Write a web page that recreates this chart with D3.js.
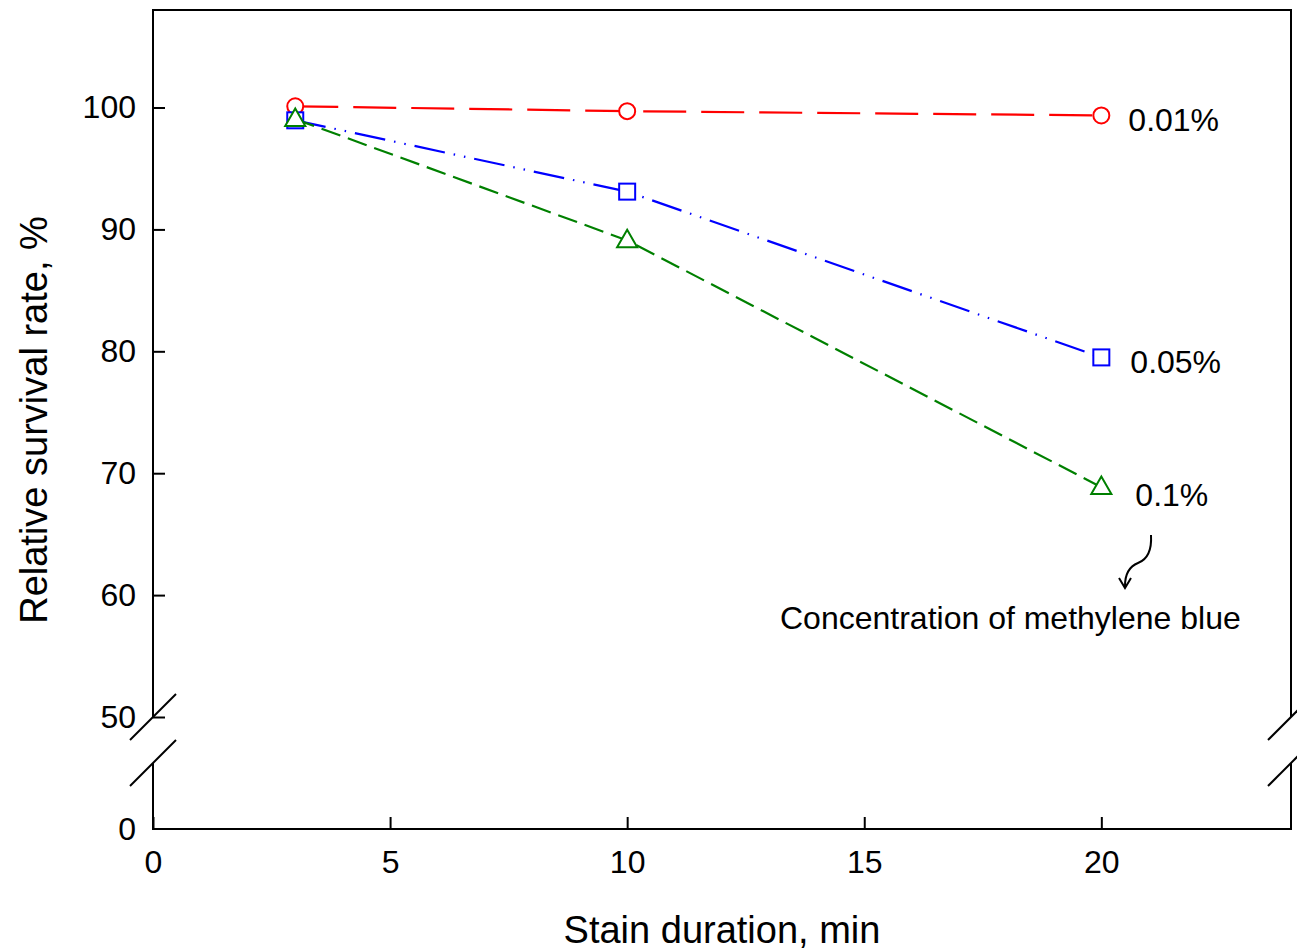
<!DOCTYPE html>
<html>
<head>
<meta charset="utf-8">
<script src="https://d3js.org/d3.v7.min.js"></script>
<style>
  body { margin: 0; background: #fff; }
  text { font-family: "Liberation Sans", Arial, sans-serif; fill: #000; }
</style>
</head>
<body>
<div id="chart"></div>
<script>
// data
var durations = [3, 10, 20];
var concentrations = ["0.01%", "0.05%", "0.1%"];
var survival001 = [100.1, 99.7, 99.35];
var survival005 = [98.95, 93.1, 79.5];
var survival01 = [99.05, 89.1, 68.85];
var xTicks = [0, 5, 10, 15, 20];
var yTicks = [50, 60, 70, 80, 90, 100];
var noteText = "Concentration of methylene blue";

var W = 1297, H = 952;
var mLeft = 153, mRight = 1291, mTop = 10, mBottom = 829;
var breakY = 717, lowTop = 763;

var svg = d3.select("#chart").append("svg")
  .attr("width", W).attr("height", H);

var x = d3.scaleLinear().domain([0, 24]).range([mLeft, mRight]);
// upper part of the broken axis
var y = d3.scaleLinear().domain([50, 108]).range([breakY, mTop]);
// lower part, just the zero
var yLow = d3.scaleLinear().domain([0, 5]).range([mBottom, lowTop]);

var series = [
  { name: concentrations[0], vals: survival001, color: "#ff0000", dash: "43,15", shape: "circle", dx: 27, dy: 4 },
  { name: concentrations[1], vals: survival005, color: "#0000ff", dash: "31,9,1.5,9,1.5,9", shape: "square", dx: 29, dy: 4 },
  { name: concentrations[2], vals: survival01, color: "#008000", dash: "20,8", shape: "triangle", dx: 34, dy: 8 }
];

// frame
var frame = svg.append("g").attr("stroke", "#000").attr("stroke-width", 2).attr("fill", "none");
frame.append("path").attr("d", "M" + mLeft + "," + breakY + "V" + mTop + "H" + mRight + "V" + breakY);
frame.append("path").attr("d", "M" + mLeft + "," + lowTop + "V" + mBottom + "H" + mRight + "V" + lowTop);
// break marks
[mLeft, mRight].forEach(function(bx) {
  [breakY, lowTop].forEach(function(by) {
    frame.append("line")
      .attr("x1", bx - 23).attr("y1", by + 23)
      .attr("x2", bx + 23).attr("y2", by - 23);
  });
});

// axes
var fs = 32;
var xAxis = svg.append("g").attr("transform", "translate(0," + mBottom + ")")
  .call(d3.axisBottom(x).tickValues(xTicks).tickSizeInner(-12).tickSizeOuter(0).tickPadding(21));
var yAxis = svg.append("g").attr("transform", "translate(" + mLeft + ",0)")
  .call(d3.axisLeft(y).tickValues(yTicks).tickSizeInner(-12).tickSizeOuter(0).tickPadding(17));
var yAxisLow = svg.append("g").attr("transform", "translate(" + mLeft + ",0)")
  .call(d3.axisLeft(yLow).tickValues([0]).tickFormat(d3.format("d")).tickSize(0).tickPadding(17));
[xAxis, yAxis, yAxisLow].forEach(function(a) {
  a.select(".domain").remove();
  a.selectAll("line").attr("stroke", "#000").attr("stroke-width", 2);
  a.selectAll("text").style("font-size", fs + "px").style("font-family", '"Liberation Sans", Arial, sans-serif');
});

// lines
var line = d3.line()
  .x(function(d, i) { return x(durations[i]); })
  .y(function(d) { return y(d); });

series.forEach(function(s) {
  svg.append("path")
    .attr("d", line(s.vals))
    .attr("fill", "none")
    .attr("stroke", s.color)
    .attr("stroke-width", 2.2)
    .attr("stroke-dasharray", s.dash);
});

// markers
series.forEach(function(s) {
  var g = svg.append("g");
  s.vals.forEach(function(v, i) {
    var cx = x(durations[i]), cy = y(v);
    var m;
    if (s.shape == "circle") {
      m = g.append("circle").attr("cx", cx).attr("cy", cy).attr("r", 8);
    } else if (s.shape == "square") {
      m = g.append("rect").attr("x", cx - 8).attr("y", cy - 8).attr("width", 16).attr("height", 16);
    } else {
      m = g.append("path").attr("d", d3.symbol().type(d3.symbolTriangle).size(175)()).attr("transform", "translate(" + cx + "," + (cy + 1) + ")");
    }
    m.attr("fill", "#fff").attr("stroke", s.color).attr("stroke-width", 2);
  });
  // end label
  var last = s.vals.length - 1;
  svg.append("text")
    .attr("x", x(durations[last]) + s.dx)
    .attr("y", y(s.vals[last]) + s.dy)
    .attr("dy", "0.35em")
    .style("font-size", fs + "px")
    .text(s.name);
});

// note + curly arrow
svg.append("text")
  .attr("x", 780).attr("y", 618).attr("dy", "0.35em")
  .style("font-size", fs + "px")
  .text(noteText);

svg.append("path")
  .attr("d", "M1151,535 C1152,552 1146,560 1138,563 C1128,567 1125,575 1125,586")
  .attr("fill", "none").attr("stroke", "#000").attr("stroke-width", 2);
svg.append("path")
  .attr("d", "M1119,578 L1125,588 L1131,578")
  .attr("fill", "none").attr("stroke", "#000").attr("stroke-width", 2);

// axis titles
svg.append("text")
  .attr("x", (mLeft + mRight) / 2).attr("y", 943)
  .attr("text-anchor", "middle")
  .style("font-size", "38px")
  .text("Stain duration, min");
svg.append("text")
  .attr("transform", "translate(47,420) rotate(-90)")
  .attr("text-anchor", "middle")
  .style("font-size", "38px")
  .text("Relative survival rate, %");
</script>
</body>
</html>
